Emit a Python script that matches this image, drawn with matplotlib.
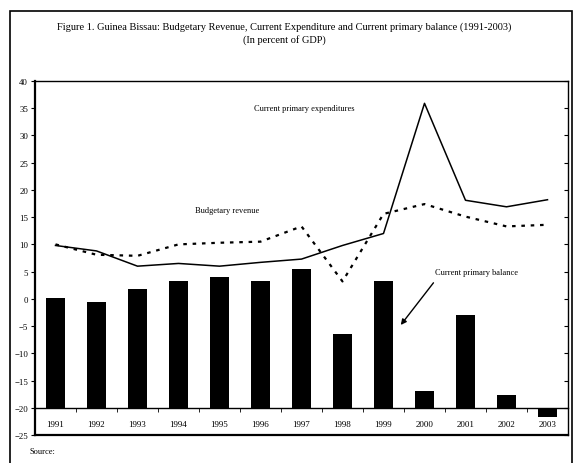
import numpy as np
from matplotlib import pyplot as plt
from matplotlib.patches import Rectangle
import matplotlib

matplotlib.rcParams['font.family'] = 'Liberation Serif'

years = ['1991', '1992', '1993', '1994', '1995', '1996', '1997',
         '1998', '1999', '2000', '2001', '2002', '2003']
expenditure = [9.8, 8.8, 6.0, 6.5, 6.0, 6.7, 7.3, 9.8, 12.0, 35.9, 18.1, 16.9, 18.2]
revenue = [10.0, 8.1, 7.9, 10.0, 10.3, 10.5, 13.3, 3.2, 15.6, 17.4, 15.1, 13.3, 13.6]
balance = [0.2, -0.6, 1.8, 3.3, 4.0, 3.3, 5.5, -6.5, 3.2, -17.0, -2.9, -17.6, -21.7]

base = -20  # 横轴交叉位置

fig = plt.figure(figsize=(5.74, 4.64), dpi=100)
ax = fig.add_axes([35 / 574, 28 / 464, 533 / 574, 354 / 464])

x = np.arange(len(years))
ax.bar(x, np.array(balance) - base, bottom=base, width=0.45, color='black', zorder=2)
ax.plot(x, expenditure, color='black', lw=1.1, zorder=3)
ax.plot(x, revenue, color='black', lw=1.6, linestyle=(0, (1.6, 2.6)), zorder=3)

ax.set_xlim(-0.5, len(years) - 0.5)
ax.set_ylim(-25, 40)
ax.set_yticks(np.arange(-25, 41, 5))
ax.tick_params(axis='y', direction='out', length=3, labelsize=6.3, pad=2)

# x axis drawn at -20
ax.spines['bottom'].set_position(('data', base))
ax.set_xticks(x)
ax.set_xticklabels(years)
ax.set_xticks(np.arange(-0.5, len(years), 1), minor=True)
ax.tick_params(axis='x', which='major', length=0, labelsize=6.5, pad=9)
ax.tick_params(axis='x', which='minor', direction='out', length=3)
ax.axhline(-25, color='black', lw=1.6, clip_on=False, zorder=4)
for s in ['left', 'right', 'top']:
    ax.spines[s].set_linewidth(1.0)
ax.spines['bottom'].set_linewidth(1.0)
ax.spines['left'].set_linewidth(1.6)

ax2 = ax.twinx()
ax2.set_ylim(-25, 40)
ax2.set_yticks(np.arange(-25, 41, 5))
ax2.tick_params(axis='y', direction='in', length=3, labelright=False)
for s in ['left', 'right', 'top', 'bottom']:
    ax2.spines[s].set_visible(False)

ax.text(6.06, 35, 'Current primary expenditures', fontsize=6, ha='center', va='center')
ax.text(4.18, 16.3, 'Budgetary revenue', fontsize=6, ha='center', va='center')
ax.text(10.26, 4.9, 'Current primary balance', fontsize=6, ha='center', va='center')
ax.annotate('', xy=(8.38, -5.2), xytext=(9.26, 3.35),
            arrowprops=dict(arrowstyle='-|>', color='black', lw=1.0, mutation_scale=8))

fig.text(284 / 574, 1 - 27 / 464, 'Figure 1. Guinea Bissau: Budgetary Revenue, Current Expenditure and Current primary balance (1991-2003)',
         fontsize=7.5, ha='center', va='center')
fig.text(284 / 574, 1 - 40 / 464, '(In percent of GDP)', fontsize=7.5, ha='center', va='center')
fig.text(30 / 574, 1 - 452 / 464, 'Source:', fontsize=6, ha='left', va='center')

fig.patches.append(Rectangle((10 / 574, -0.05), 562 / 574, 1.05 - 12 / 464,
                             transform=fig.transFigure, fill=False, lw=1.2, edgecolor='black'))

fig.savefig('out.png', dpi=100)
